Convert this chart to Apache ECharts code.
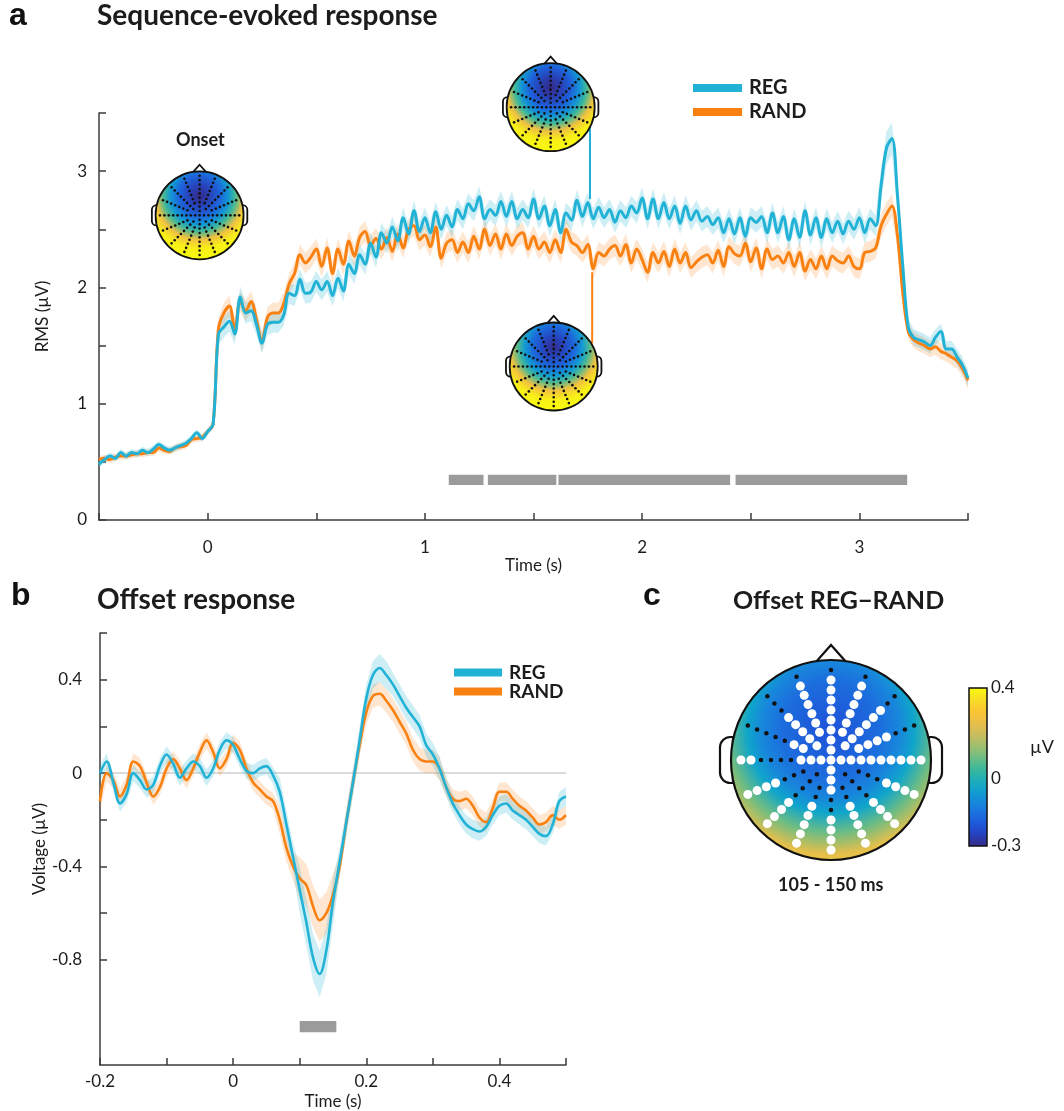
<!DOCTYPE html>
<html>
<head>
<meta charset="utf-8">
<script src="https://cdn.jsdelivr.net/npm/echarts@6/dist/echarts.min.js"></script>
<style>
  html, body { margin: 0; padding: 0; background: #fff; }
  #chart { width: 1064px; height: 1111px; }
</style>
</head>
<body>
<div id="chart"></div>
<script>
// ---------------- Sequence-evoked RMS (panel a), sampled every 25 ms from -0.5 s ----------------
const seqStart = -0.5;
const seqStep = 0.025;
const seqReg = [
  0.48,0.52,0.55,0.53,0.58,0.55,0.58,0.57,0.60,0.58,0.61,0.65,0.62,0.60,0.62,0.64,0.66,0.70,0.75,0.70,0.76,
  0.82,
  1.60,1.66,1.71,1.60,1.92,1.78,1.80,1.68,1.52,1.68,1.70,1.70,1.76,1.95,1.93,2.07,1.95,1.96,2.05,1.98,2.05,1.93,
  2.08,1.97,2.20,2.12,2.28,2.20,2.38,2.26,2.47,2.38,2.52,2.40,2.60,2.46,2.66,2.48,2.60,2.47,2.65,2.50,2.62,
  2.52,2.67,2.59,2.72,2.66,2.78,2.59,2.67,2.62,2.74,2.61,2.74,2.59,2.67,2.60,2.76,2.59,2.70,2.53,2.67,2.47,2.64,
  2.58,2.75,2.61,2.73,2.59,2.69,2.60,2.67,2.56,2.66,2.60,2.70,2.64,2.77,2.59,2.76,2.59,2.73,2.59,2.70,2.55,2.70,2.58,
  2.66,2.57,2.61,2.54,2.60,2.47,2.59,2.46,2.60,2.44,2.60,2.56,2.61,2.47,2.64,2.47,2.61,2.41,2.59,2.43,2.66,2.45,
  2.60,2.43,2.59,2.47,2.57,2.46,2.57,2.50,2.60,2.47,2.59,2.53,2.88,3.20,3.28,2.80,2.18,1.66,1.57,1.55,1.53,1.50,
  1.57,1.62,1.47,1.47,1.40,1.33,1.22
];
const seqRand = [
  0.52,0.53,0.52,0.54,0.55,0.55,0.56,0.57,0.57,0.58,0.58,0.62,0.60,0.59,0.62,0.63,0.64,0.69,0.70,0.71,0.76,
  0.82,
  1.65,1.78,1.84,1.64,1.88,1.80,1.88,1.72,1.53,1.74,1.78,1.78,1.86,2.03,2.12,2.28,2.21,2.26,2.33,2.18,2.34,2.12,
  2.33,2.20,2.40,2.27,2.43,2.48,2.36,2.42,2.33,2.43,2.31,2.46,2.34,2.50,2.53,2.41,2.45,2.35,2.52,2.25,2.38,
  2.41,2.30,2.39,2.30,2.44,2.33,2.50,2.36,2.46,2.33,2.46,2.36,2.44,2.47,2.33,2.44,2.33,2.39,2.30,2.41,2.30,2.50,
  2.39,2.36,2.30,2.37,2.16,2.30,2.27,2.33,2.36,2.27,2.37,2.21,2.33,2.24,2.13,2.30,2.21,2.31,2.18,2.33,2.21,2.30,2.17,
  2.22,2.26,2.28,2.21,2.32,2.18,2.35,2.29,2.27,2.38,2.22,2.34,2.16,2.33,2.24,2.27,2.21,2.30,2.18,2.30,2.14,2.24,
  2.16,2.27,2.16,2.27,2.23,2.21,2.27,2.18,2.16,2.30,2.31,2.34,2.53,2.63,2.70,2.45,1.95,1.62,1.55,1.52,1.50,1.47,
  1.49,1.45,1.43,1.40,1.37,1.30,1.20
];
// standard error, given per time window as [window start (s), SEM]
const seqRegSem  = [[-0.5, 0.03], [0.04, 0.09], [3.08, 0.14], [3.2, 0.07]];
const seqRandSem = [[-0.5, 0.03], [0.04, 0.09], [3.08, 0.10], [3.2, 0.07]];
// REG vs RAND significant clusters (s)
const seqSigWindows = [[1.11, 1.27], [1.29, 1.605], [1.615, 2.405], [2.43, 3.22]];
const seqXTicks = [-0.5, 0, 0.5, 1, 1.5, 2, 2.5, 3, 3.5];
const seqXLabels = [0, 1, 2, 3];
const seqYTicks = [0, 0.5, 1, 1.5, 2, 2.5, 3, 3.5];
const seqYLabels = [0, 1, 2, 3];

// ---------------- Offset response (panel b), sampled every 10 ms from -0.2 s ----------------
const offStart = -0.2;
const offStep = 0.01;
const offReg = [
  0.00,0.05,-0.04,-0.13,-0.09,0.00,-0.03,-0.07,-0.05,0.03,0.08,0.04,-0.02,0.02,0.05,0.03,-0.02,0.02,0.10,0.14,
  0.12,0.06,0.01,0.00,0.02,0.03,-0.01,-0.08,-0.22,-0.36,-0.50,-0.64,-0.79,-0.86,-0.76,-0.55,-0.38,-0.21,-0.04,0.14,
  0.32,0.42,0.45,0.42,0.38,0.33,0.28,0.24,0.20,0.12,0.08,0.02,-0.06,-0.13,-0.18,-0.22,-0.24,-0.25,-0.23,-0.18,
  -0.14,-0.13,-0.16,-0.18,-0.20,-0.23,-0.26,-0.27,-0.22,-0.12,-0.10
];
const offRand = [
  -0.12,0.00,-0.03,-0.10,-0.05,0.05,0.03,-0.04,-0.10,-0.06,0.02,0.06,0.02,-0.03,0.02,0.09,0.14,0.09,0.02,0.06,
  0.13,0.10,0.02,-0.04,-0.07,-0.10,-0.12,-0.20,-0.32,-0.40,-0.45,-0.48,-0.57,-0.63,-0.60,-0.52,-0.40,-0.21,-0.04,0.12,
  0.26,0.33,0.34,0.31,0.27,0.22,0.17,0.10,0.06,0.05,0.05,0.02,-0.06,-0.11,-0.12,-0.11,-0.14,-0.19,-0.21,-0.15,
  -0.08,-0.08,-0.11,-0.14,-0.16,-0.19,-0.22,-0.21,-0.18,-0.20,-0.18
];
const offRegSem  = [[-0.2, 0.035], [0.07, 0.06], [0.10, 0.10], [0.16, 0.06], [0.24, 0.05], [0.32, 0.04]];
const offRandSem = [[-0.2, 0.035], [0.07, 0.06], [0.10, 0.09], [0.16, 0.05], [0.24, 0.05], [0.32, 0.04]];
const offSigWindows = [[0.10, 0.155]];
const offXTicks = [-0.2, -0.1, 0, 0.1, 0.2, 0.3, 0.4, 0.5];
const offXLabels = [-0.2, 0, 0.2, 0.4];
const offYTicks = [-0.8, -0.6, -0.4, -0.2, 0, 0.2, 0.4, 0.6];
const offYLabels = [-0.8, -0.4, 0, 0.4];

// ---------------- Scalp maps ----------------
// colormap positions (0..1) from the frontal focus outwards
const onsetTopo = [0.00, 0.07, 0.18, 0.33, 0.50, 0.80, 0.97, 1.00];
const regTopo   = [0.00, 0.06, 0.17, 0.32, 0.49, 0.80, 0.97, 1.00];
const randTopo  = [0.01, 0.08, 0.19, 0.34, 0.51, 0.81, 0.97, 1.00];
// REG-RAND difference 105-150 ms (µV), from the frontal focus outwards
const diffTopo  = [-0.21, -0.19, -0.16, -0.11, -0.04, 0.09, 0.24, 0.33];
const diffRange = [-0.3, 0.4];
const cbarLabels = [-0.3, 0, 0.4];
// 128-channel style montage: rings of radial spokes (16 spokes at full density)
const ringRadii  = [0.1, 0.2, 0.3, 0.4, 0.5, 0.6, 0.7, 0.8, 0.9];
const ringCounts = [4, 8, 16, 16, 16, 16, 16, 16, 16];
// significant channels: [spoke (0 = right, counter-clockwise), first ring, last ring]
const sigSpokes = [
  [0, 1, 9], [1, 1, 6], [2, 1, 7], [3, 1, 8], [4, 1, 8], [5, 1, 8], [6, 1, 6], [7, 1, 4],
  [8, 1, 3], [8, 8, 9], [9, 6, 9], [10, 6, 9], [11, 5, 9], [12, 1, 3], [12, 6, 9],
  [13, 5, 9], [14, 6, 9], [15, 6, 9]
];

// ---------------- helpers ----------------
const REG_COLOR = '#22b2d6';
const RAND_COLOR = '#f98112';
const AXIS_COLOR = '#3b3b3b';
const TEXT_COLOR = '#1c1c1c';
const FONT = 'Lato';

const PARULA = [
  [0.00, [53, 42, 135]], [0.12, [31, 79, 216]], [0.25, [26, 127, 224]], [0.37, [15, 165, 204]],
  [0.48, [53, 183, 158]], [0.60, [139, 191, 118]], [0.72, [212, 188, 90]], [0.84, [252, 195, 54]],
  [0.93, [246, 223, 37]], [1.00, [249, 251, 14]]
];
function parula(p) {
  p = Math.max(0, Math.min(1, p));
  for (let i = 1; i < PARULA.length; i++) {
    const [p1, c1] = PARULA[i];
    const [p0, c0] = PARULA[i - 1];
    if (p <= p1) {
      const f = (p - p0) / (p1 - p0);
      const c = c0.map((v, k) => Math.round(v + (c1[k] - v) * f));
      return 'rgb(' + c.join(',') + ')';
    }
  }
  return 'rgb(249,251,14)';
}
const TOPO_OFFSETS = [0, 0.15, 0.32, 0.45, 0.55, 0.68, 0.82, 1];
function topoFill(levels, fx, fy, fr) {
  return new echarts.graphic.RadialGradient(fx, fy, fr,
    levels.map((lv, i) => ({ offset: TOPO_OFFSETS[i], color: parula(lv) })));
}

function buildMontage() {
  const pts = [{ x: 0, y: 0, ring: 0, spoke: 0 }];
  ringRadii.forEach((r, k) => {
    const n = ringCounts[k];
    for (let j = 0; j < n; j++) {
      const spoke = j * 16 / n;
      const a = spoke * Math.PI / 8;
      pts.push({ x: r * Math.cos(a), y: r * Math.sin(a), ring: k + 1, spoke });
    }
  });
  return pts;
}
const montage = buildMontage();
function isSig(p) {
  if (p.ring === 0) return true;
  return sigSpokes.some(([s, a, b]) => s === p.spoke && p.ring >= a && p.ring <= b);
}

function semAt(windows, t) {
  let s = windows[0][1];
  for (const [t0, v] of windows) if (t >= t0 - 1e-9) s = v;
  return s;
}
function series2d(start, step, values) {
  return values.map((v, i) => [+(start + i * step).toFixed(4), v]);
}

function bandSeries(name, gi, start, step, mean, semWin, fill) {
  return {
    type: 'custom', name, xAxisIndex: gi, yAxisIndex: gi, silent: true, clip: true, z: 1,
    data: [[start, mean[0]]],
    renderItem(params, api) {
      const up = [], lo = [];
      mean.forEach((v, i) => {
        const t = start + i * step;
        const s = semAt(semWin, t);
        up.push(api.coord([t, v + s]));
        lo.push(api.coord([t, v - s]));
      });
      return { type: 'polygon', shape: { points: up.concat(lo.reverse()) }, style: { fill } };
    }
  };
}
function lineSeries(name, gi, start, step, values, color, width) {
  return {
    type: 'line', name, xAxisIndex: gi, yAxisIndex: gi,
    data: series2d(start, step, values),
    symbol: 'none', showSymbol: false, smooth: 0.35, silent: true, z: 3,
    color, itemStyle: { color }, lineStyle: { color, width }
  };
}
function sigBarSeries(gi, windows, yTop, yBottom) {
  return {
    type: 'custom', xAxisIndex: gi, yAxisIndex: gi, silent: true, z: 2,
    data: windows.map(w => [w[0], w[1]]),
    renderItem(params, api) {
      const p0 = api.coord([api.value(0), yTop]);
      const p1 = api.coord([api.value(1), yBottom]);
      return { type: 'rect', shape: { x: p0[0], y: p0[1], width: p1[0] - p0[0], height: p1[1] - p0[1] },
               style: { fill: '#9b9b9b' } };
    }
  };
}

// head outline, filled scalp and (optionally) electrode dots around a centre given in pixels
function headElements(cx, cy, R, fill, lw, dotR) {
  const ew = R * 0.13, eh = R * 0.46;
  const els = [
    { type: 'rect', shape: { x: cx - R - ew + 2, y: cy - eh / 2, width: ew, height: eh, r: [ew * 0.8, 0, 0, ew * 0.8] },
      style: { fill: '#fff', stroke: '#111', lineWidth: lw } },
    { type: 'rect', shape: { x: cx + R - 2, y: cy - eh / 2, width: ew, height: eh, r: [0, ew * 0.8, ew * 0.8, 0] },
      style: { fill: '#fff', stroke: '#111', lineWidth: lw } },
    { type: 'polygon', shape: { points: [[cx - 0.16 * R, cy - 0.97 * R], [cx, cy - 1.15 * R], [cx + 0.16 * R, cy - 0.97 * R]] },
      style: { fill: '#fff', stroke: '#111', lineWidth: lw } },
    { type: 'circle', shape: { cx, cy, r: R }, style: { fill, stroke: '#111', lineWidth: lw } }
  ];
  if (dotR) {
    montage.forEach(p => {
      els.push({ type: 'circle', shape: { cx: cx + p.x * R, cy: cy - p.y * R, r: dotR }, style: { fill: '#111' } });
    });
  }
  return els;
}

const smallTopos = [onsetTopo, regTopo, randTopo];

const axisLineStyle = { color: AXIS_COLOR, width: 1.5 };
const labelStyle = { fontSize: 17, color: TEXT_COLOR, fontFamily: FONT };
const fmt = v => String(Math.round(v * 10) / 10);

const option = {
  backgroundColor: '#fff',
  animation: false,
  textStyle: { fontFamily: FONT },
  grid: [
    { left: 99, top: 113, width: 869, height: 407, outerBoundsMode: 'none' },
    { left: 100, top: 633, width: 466, height: 432, outerBoundsMode: 'none' },
    { left: 711, top: 640, width: 240, height: 240, outerBoundsMode: 'none' },
    { left: 969, top: 688, width: 18, height: 158, outerBoundsMode: 'none' }
  ],
  xAxis: [
    { gridIndex: 0, type: 'value', min: -0.5, max: 3.5,
      axisLine: { show: true, onZero: false, lineStyle: axisLineStyle },
      axisTick: { show: true, inside: true, length: 7, customValues: seqXTicks, lineStyle: axisLineStyle },
      axisLabel: Object.assign({ customValues: seqXLabels, margin: 19, formatter: fmt }, labelStyle),
      splitLine: { show: false },
      name: 'Time (s)', nameLocation: 'middle', nameGap: 36, nameTextStyle: labelStyle },
    { gridIndex: 1, type: 'value', min: -0.2, max: 0.5,
      axisLine: { show: true, onZero: false, lineStyle: axisLineStyle },
      axisTick: { show: true, inside: true, length: 7, customValues: offXTicks, lineStyle: axisLineStyle },
      axisLabel: Object.assign({ customValues: offXLabels, margin: 8, formatter: fmt }, labelStyle),
      splitLine: { show: false },
      name: 'Time (s)', nameLocation: 'middle', nameGap: 28, nameTextStyle: labelStyle },
    { gridIndex: 2, type: 'value', min: -1.2, max: 1.2, show: false },
    { gridIndex: 3, type: 'value', min: 0, max: 1, show: false }
  ],
  yAxis: [
    { gridIndex: 0, type: 'value', min: 0, max: 3.5,
      axisLine: { show: true, onZero: false, lineStyle: axisLineStyle },
      axisTick: { show: true, inside: true, length: 7, customValues: seqYTicks, lineStyle: axisLineStyle },
      axisLabel: Object.assign({ customValues: seqYLabels, margin: 12, formatter: fmt }, labelStyle),
      splitLine: { show: false },
      name: 'RMS (µV)', nameLocation: 'middle', nameGap: 48, nameTextStyle: labelStyle },
    { gridIndex: 1, type: 'value', min: -1.25, max: 0.6,
      axisLine: { show: true, onZero: false, lineStyle: axisLineStyle },
      axisTick: { show: true, inside: true, length: 7, customValues: offYTicks, lineStyle: axisLineStyle },
      axisLabel: Object.assign({ customValues: offYLabels, margin: 18, formatter: fmt }, labelStyle),
      splitLine: { show: false },
      name: 'Voltage (µV)', nameLocation: 'middle', nameGap: 52, nameTextStyle: labelStyle },
    { gridIndex: 2, type: 'value', min: -1.2, max: 1.2, show: false },
    { gridIndex: 3, type: 'value', min: diffRange[0], max: diffRange[1], position: 'right',
      axisLine: { show: false }, axisTick: { show: false }, splitLine: { show: false },
      axisLabel: Object.assign({ customValues: cbarLabels, margin: 4, formatter: fmt, showMinLabel: true, showMaxLabel: true }, labelStyle) }
  ],
  legend: [
    { data: ['REG', 'RAND'], orient: 'vertical', left: 693, top: 78, itemGap: 4, itemWidth: 49, itemHeight: 8,
      icon: 'rect', padding: 0, selectedMode: false,
      textStyle: { fontSize: 20, fontWeight: 'bold', color: TEXT_COLOR, fontFamily: FONT, padding: [0, 0, 0, 2] } },
    { data: ['REG', 'RAND'], orient: 'vertical', left: 454, top: 663, itemGap: 0, itemWidth: 48, itemHeight: 8,
      icon: 'rect', padding: 0, selectedMode: false,
      textStyle: { fontSize: 19, fontWeight: 'bold', color: TEXT_COLOR, fontFamily: FONT, padding: [0, 0, 0, 2] } }
  ],
  graphic: [
    { type: 'text', left: 9, top: 0, style: { text: 'a', font: 'bold 32px "Liberation Sans"', fill: '#111' } },
    { type: 'text', left: 97, top: 2, style: { text: 'Sequence-evoked response', font: 'bold 28px Lato', fill: TEXT_COLOR } },
    { type: 'text', left: 11, top: 580, style: { text: 'b', font: 'bold 32px "Liberation Sans"', fill: '#111' } },
    { type: 'text', left: 97, top: 586, style: { text: 'Offset response', font: 'bold 28px Lato', fill: TEXT_COLOR } },
    { type: 'text', left: 643, top: 580, style: { text: 'c', font: 'bold 32px "Liberation Sans"', fill: '#111' } },
    { type: 'text', left: 733, top: 588, style: { text: 'Offset REG\u2212RAND', font: 'bold 25px Lato', fill: TEXT_COLOR } },
    { type: 'text', left: 176, top: 131, style: { text: 'Onset', font: 'bold 18px Lato', fill: TEXT_COLOR } },
    { type: 'text', left: 778, top: 876, style: { text: '105 - 150 ms', font: 'bold 18px Lato', fill: TEXT_COLOR } },
    { type: 'text', left: 1030, top: 738, style: { text: 'µV', font: '18px Lato', fill: TEXT_COLOR } }
  ],
  series: [
    // ---- panel a ----
    bandSeries('RAND sem', 0, seqStart, seqStep, seqRand, seqRandSem, 'rgba(249,129,18,0.20)'),
    bandSeries('REG sem', 0, seqStart, seqStep, seqReg, seqRegSem, 'rgba(34,178,214,0.22)'),
    sigBarSeries(0, seqSigWindows, 0.39, 0.30),
    lineSeries('RAND', 0, seqStart, seqStep, seqRand, RAND_COLOR, 3),
    lineSeries('REG', 0, seqStart, seqStep, seqReg, REG_COLOR, 3),
    { type: 'line', name: 'REG map link', xAxisIndex: 0, yAxisIndex: 0, data: [[1.76, 3.39], [1.76, 2.76]],
      symbol: 'none', silent: true, z: 4, lineStyle: { color: REG_COLOR, width: 2 } },
    { type: 'line', name: 'RAND map link', xAxisIndex: 0, yAxisIndex: 0, data: [[1.77, 2.13], [1.77, 1.52]],
      symbol: 'none', silent: true, z: 4, lineStyle: { color: RAND_COLOR, width: 2 } },
    { type: 'custom', name: 'maps', xAxisIndex: 0, yAxisIndex: 0, clip: false, silent: true, z: 5,
      data: [[-0.037, 2.62, 0], [1.579, 3.55, 1], [1.593, 1.32, 2]],
      renderItem(params, api) {
        const c = api.coord([api.value(0), api.value(1)]);
        const levels = smallTopos[api.value(2)];
        return { type: 'group', children: headElements(c[0], c[1], 44, topoFill(levels, 0.5, 0.28, 0.72), 1.8, 1.3) };
      } },
    // ---- panel b ----
    bandSeries('RAND sem b', 1, offStart, offStep, offRand, offRandSem, 'rgba(249,129,18,0.20)'),
    bandSeries('REG sem b', 1, offStart, offStep, offReg, offRegSem, 'rgba(34,178,214,0.22)'),
    sigBarSeries(1, offSigWindows, -1.062, -1.11),
    Object.assign(lineSeries('RAND', 1, offStart, offStep, offRand, RAND_COLOR, 2.6), {
      markLine: { silent: true, symbol: 'none', label: { show: false }, z: 0,
                  lineStyle: { color: '#cfcfcf', width: 1.5, type: 'solid' }, data: [{ yAxis: 0 }] } }),
    lineSeries('REG', 1, offStart, offStep, offReg, REG_COLOR, 2.6),
    // ---- panel c ----
    { type: 'custom', name: 'diff map', xAxisIndex: 2, yAxisIndex: 2, clip: false, silent: true, z: 1,
      data: [[0, 0]],
      renderItem(params, api) {
        const c = api.coord([0, 0]);
        const R = api.size([1, 1])[0];
        const levels = diffTopo.map(v => (v - diffRange[0]) / (diffRange[1] - diffRange[0]));
        return { type: 'group', children: headElements(c[0], c[1], R, topoFill(levels, 0.5, 0.35, 0.75), 2.2, 0) };
      } },
    { type: 'scatter', name: 'channels', xAxisIndex: 2, yAxisIndex: 2, silent: true, z: 3,
      symbolSize: 4.5, itemStyle: { color: '#111', opacity: 1 },
      data: montage.filter(p => !isSig(p)).map(p => [p.x, p.y]) },
    { type: 'scatter', name: 'significant channels', xAxisIndex: 2, yAxisIndex: 2, silent: true, z: 3,
      symbolSize: 9, itemStyle: { color: '#ffffff', opacity: 1 },
      data: montage.filter(isSig).map(p => [p.x, p.y]) },
    { type: 'custom', name: 'colour bar', xAxisIndex: 3, yAxisIndex: 3, clip: false, silent: true,
      data: [[0, diffRange[0]]],
      renderItem(params, api) {
        const p0 = api.coord([0, diffRange[1]]);
        const p1 = api.coord([1, diffRange[0]]);
        const stops = [];
        for (let i = 0; i <= 20; i++) stops.push({ offset: i / 20, color: parula(1 - i / 20) });
        return { type: 'rect', shape: { x: p0[0], y: p0[1], width: p1[0] - p0[0], height: p1[1] - p0[1] },
                 style: { fill: new echarts.graphic.LinearGradient(0, 0, 0, 1, stops), stroke: '#111', lineWidth: 1.5 } };
      } }
  ]
};

const chart = echarts.init(document.getElementById('chart'), null, { renderer: 'canvas' });
chart.setOption(option);
</script>
</body>
</html>
